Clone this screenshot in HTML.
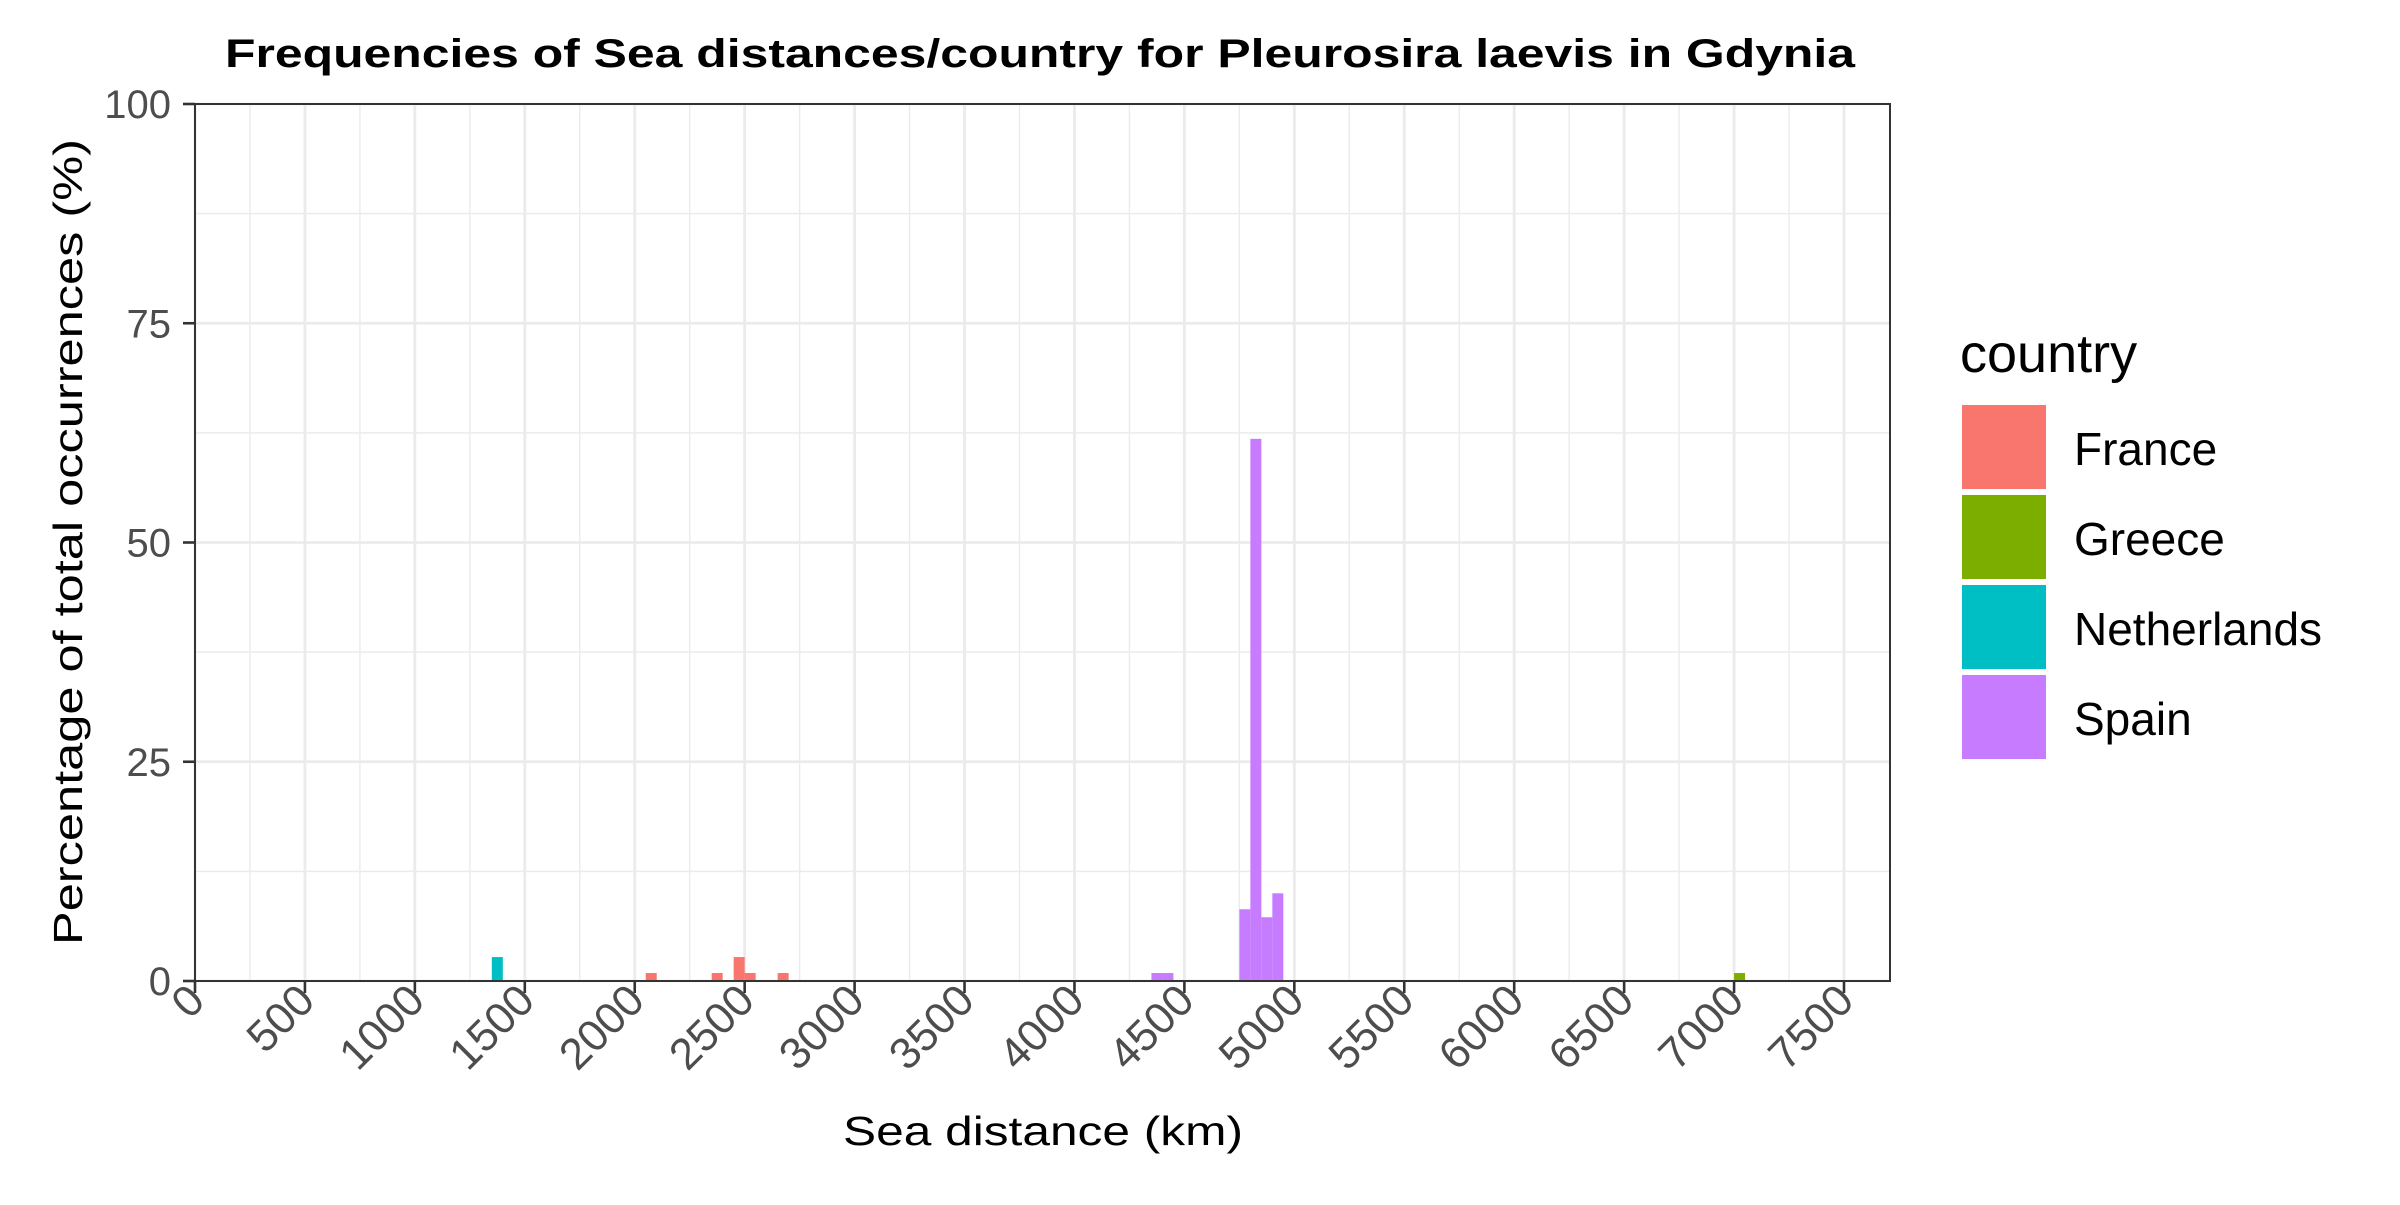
<!DOCTYPE html>
<html><head><meta charset="utf-8">
<style>
html,body{margin:0;padding:0;background:#fff;}
svg text{font-family:"Liberation Sans",Arial,sans-serif;}
</style></head>
<body>
<svg id="chart" width="2400" height="1200" viewBox="0 0 2400 1200" xmlns="http://www.w3.org/2000/svg">
<rect x="0" y="0" width="2400" height="1200" fill="#fff"/>
<text x="1040" y="67" font-size="40" font-weight="bold" text-anchor="middle" textLength="1630" lengthAdjust="spacingAndGlyphs">Frequencies of Sea distances/country for Pleurosira laevis in Gdynia</text>
<g id="grid"></g>
<g id="bars"></g>
<rect x="195" y="104" width="1695" height="877" fill="none" stroke="#333" stroke-width="2"/>
<g id="axes"></g>
<text x="1043" y="1145" font-size="41" text-anchor="middle" textLength="400" lengthAdjust="spacingAndGlyphs">Sea distance (km)</text>
<text transform="translate(82,542) rotate(-90)" font-size="41" text-anchor="middle" textLength="806" lengthAdjust="spacingAndGlyphs">Percentage of total occurrences (%)</text>
<g id="legend">
<text x="1960" y="372" font-size="54">country</text>
</g>
</svg>
<script>
const categories = ["France","Greece","Netherlands","Spain"];
const colors = ["#F8766D","#7CAE00","#00BFC4","#C77CFF"];
const binStarts = [1350, 2050, 2350, 2450, 2500, 2650, 4350, 4400, 4750, 4800, 4850, 4900, 7000];
const binCountry = ["Netherlands","France","France","France","France","France","Spain","Spain","Spain","Spain","Spain","Spain","Greece"];
const binValues = [2.73, 0.91, 0.91, 2.73, 0.91, 0.91, 0.91, 0.91, 8.18, 61.82, 7.27, 10.0, 0.91];
const binWidth = 50;
const xTicks = [0,500,1000,1500,2000,2500,3000,3500,4000,4500,5000,5500,6000,6500,7000,7500];
const yTicks = [0,25,50,75,100];

const NS = "http://www.w3.org/2000/svg";
const X0 = 195, XR = 1890, Y0 = 981, YT = 104;
const xs = v => X0 + v * (1844 - X0) / 7500;
const ys = v => Y0 - v * (Y0 - YT) / 100;
function mk(tag, attrs, parent){const e=document.createElementNS(NS,tag);for(const k in attrs)e.setAttribute(k,attrs[k]);parent.appendChild(e);return e;}
const grid=document.getElementById('grid'), bars=document.getElementById('bars'), axes=document.getElementById('axes'), legend=document.getElementById('legend');

for(let i=0;i<xTicks.length;i++){
  const v=xTicks[i]+250; if(xs(v)<XR){
    const l=mk('line',{x1:xs(v),x2:xs(v),y1:YT,y2:Y0,stroke:'#ebebeb','stroke-width':1.4},grid);
    
    
  }
}
for(let i=0;i<yTicks.length-1;i++){
  const v=yTicks[i]+12.5;
  const l=mk('line',{x1:X0,x2:XR,y1:ys(v),y2:ys(v),stroke:'#ebebeb','stroke-width':1.4},grid);
  
  
}
xTicks.forEach(v=>{
  const l=mk('line',{x1:xs(v),x2:xs(v),y1:YT,y2:Y0,stroke:'#ebebeb','stroke-width':2.8},grid);
  
  
  const t=mk('line',{x1:xs(v),x2:xs(v),y1:Y0,y2:Y0+12,stroke:'#333','stroke-width':2.6},axes);
  
  
  const tx=mk('text',{transform:`translate(${xs(v)+12},${Y0+22}) rotate(-45)`,'font-size':44,fill:'#4d4d4d','text-anchor':'end'},axes);
  tx.textContent=v;
  
  
});
yTicks.forEach(v=>{
  const l=mk('line',{x1:X0,x2:XR,y1:ys(v),y2:ys(v),stroke:'#ebebeb','stroke-width':2.8},grid);
  
  
  const t=mk('line',{x1:X0-12,x2:X0,y1:ys(v),y2:ys(v),stroke:'#333','stroke-width':2.6},axes);
  
  
  const tx=mk('text',{x:171,y:ys(v)+14,'font-size':40,fill:'#4d4d4d','text-anchor':'end'},axes);
  tx.textContent=v;
  
  
});
binStarts.forEach((b,i)=>{
  const c=colors[categories.indexOf(binCountry[i])];
  const r=mk('rect',{x:xs(b),y:ys(binValues[i]),width:xs(b+binWidth)-xs(b),height:Y0-ys(binValues[i]),fill:c},bars);
  
  
});
categories.forEach((c,i)=>{
  const y=405+i*90;
  const r=mk('rect',{x:1962,y:y,width:84,height:84,fill:colors[i]},legend);
  
  
  const t=mk('text',{x:2074,y:y+60,'font-size':46},legend);
  t.textContent=c;
  
  
});
</script>
</body></html>
